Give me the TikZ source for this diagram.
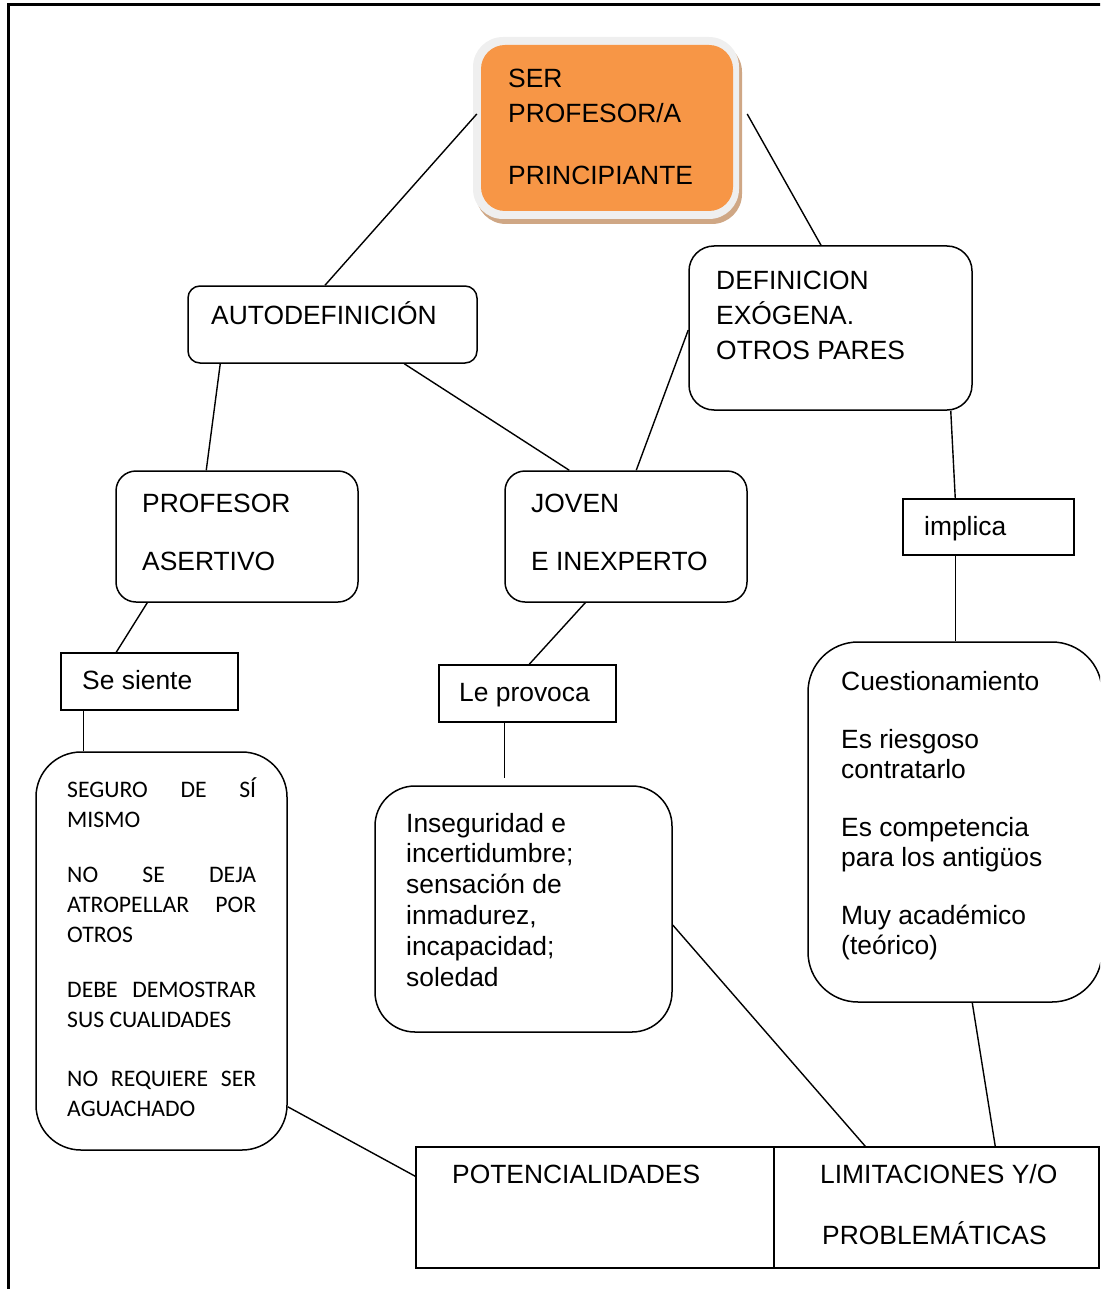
\documentclass[tikz,border=0pt]{standalone}
\usepackage{fontspec}
\setmainfont{Liberation Sans}
\newfontfamily\calib{Carlito}
\definecolor{headorange}{HTML}{F79646}
\definecolor{ringgrey}{HTML}{EFEFEF}
\definecolor{shadowtan}{HTML}{CFA785}
\begin{document}
\begin{tikzpicture}[x=1pt,y=-1pt,
  box/.style={draw, line width=1.5pt, inner sep=0pt, rectangle},
  rbox/.style={box, rounded corners=#1},
  conn/.style={line width=1.4pt},
  txt/.style={anchor=base west, inner sep=0pt, font=\fontsize{26.4}{35}\selectfont},
]
\useasboundingbox (0,0) rectangle (1100,1289);
\clip (0,0) rectangle (1100,1289);

% page frame
\draw[line width=3pt] (8.5,1300) -- (8.5,5) -- (1110,5);

% heading box with light ring and soft shadow
\fill[shadowtan, rounded corners=30pt] (476,42) rectangle (742,224);
\fill[ringgrey, rounded corners=30pt] (473,37) rectangle (739,219);
\node[fill=headorange, rounded corners=24pt, inner sep=0pt,
      minimum width=252pt, minimum height=166pt] (top) at (607,128) {};
\node[txt] (ttop) at (508,87.5) {\parbox[t]{240pt}{\raggedright SER\\PROFESOR/A\\[27pt]PRINCIPIANTE}};

% second level
\node[rbox=12pt, minimum width=289pt, minimum height=77pt] (auto) at (332.5,324.5) {};
\node[txt] (tauto) at (211,324.5) {AUTODEFINICIÓN};

\node[rbox=25pt, minimum width=283pt, minimum height=164pt] (def) at (830.5,328) {};
\node[txt] (tdef) at (716,289.5) {\parbox[t]{250pt}{\raggedright DEFINICION\\EXÓGENA.\\OTROS PARES}};

% third level
\node[rbox=20pt, minimum width=242pt, minimum height=131pt] (prof) at (237,536.5) {};
\node[txt] (tprof) at (142,512.5) {\parbox[t]{210pt}{\raggedright PROFESOR\\[23pt]ASERTIVO}};

\node[rbox=20pt, minimum width=242pt, minimum height=131pt] (joven) at (626,536.5) {};
\node[txt] (tjoven) at (531,512.5) {\parbox[t]{210pt}{\raggedright JOVEN\\[23pt]E INEXPERTO}};

\node[box, minimum width=171pt, minimum height=56pt] (implica) at (988.5,527) {};
\node[txt] (timplica) at (924,535.5) {implica};

% linking words
\node[box, minimum width=177pt, minimum height=57pt] (siente) at (149.5,681.5) {};
\node[txt] (tsiente) at (82,689.5) {Se siente};

\node[box, minimum width=177pt, minimum height=57pt] (provoca) at (527.5,693.5) {};
\node[txt] (tprovoca) at (459,701) {Le provoca};

% detail boxes
\node[rbox=45pt, minimum width=251pt, minimum height=398pt] (lista) at (161.5,951) {};
\node[anchor=base west, inner sep=0pt] (tlista) at (67,797) {\parbox[t]{189pt}{%
  \calib\fontsize{23.7}{30}\selectfont\setlength{\parskip}{25pt}%
  SEGURO DE SÍ\linebreak MISMO\par
  NO SE DEJA\linebreak ATROPELLAR POR\linebreak OTROS\par
  DEBE DEMOSTRAR\linebreak SUS CUALIDADES\par\vspace{4pt}%
  NO REQUIERE SER\linebreak AGUACHADO}};

\node[rbox=40pt, minimum width=297pt, minimum height=246pt] (inseg) at (523.5,909) {};
\node[txt, font=\fontsize{26.4}{30.8}\selectfont] (tinseg) at (406,832) {\parbox[t]{260pt}{\raggedright
  Inseguridad e\\incertidumbre;\\sensación de\\inmadurez,\\incapacidad;\\soledad}};

\node[rbox=50pt, minimum width=294pt, minimum height=360pt] (cuest) at (955,822) {};
\node[txt, font=\fontsize{26.4}{30.5}\selectfont] (tcuest) at (841,690.5) {\parbox[t]{250pt}{\raggedright
  Cuestionamiento\\[27pt]Es riesgoso\\contratarlo\\[27pt]Es competencia\\para los antigüos\\[27pt]Muy académico\\(teórico)}};

% bottom table
\node[box, minimum width=358pt, minimum height=121pt] (pot) at (595,1207.5) {};
\node[txt] (tpot) at (452,1183.5) {POTENCIALIDADES};
\node[box, minimum width=325pt, minimum height=121pt] (lim) at (936.5,1207.5) {};
\node[txt] (tlim) at (820,1183.5) {\parbox[t]{270pt}{\raggedright LIMITACIONES Y/O\\[26pt]\hspace*{2pt}PROBLEMÁTICAS}};

% connectors
\draw[conn] ([xshift=-4pt,yshift=14pt]top.west) -- ([xshift=-7.5pt]auto.north);
\draw[conn] ([xshift=14pt,yshift=14pt]top.east) -- ([xshift=-9.5pt]def.north);
\draw[conn] ([xshift=33pt]auto.south west) -- ([xshift=91pt]prof.north west);
\draw[conn] ([xshift=217pt]auto.south west) -- ([xshift=65pt]joven.north west);
\draw[conn] ([yshift=-2pt]def.west) -- ([xshift=132pt]joven.north west);
\draw[conn] ([xshift=-22pt]def.south east) -- ([xshift=53pt]implica.north west);
\draw[conn] ([xshift=53pt]implica.south west) -- ([xshift=148pt]cuest.north west);
\draw[conn] ([xshift=32pt]prof.south west) -- ([xshift=56pt]siente.north west);
\draw[conn] ([xshift=23pt]siente.south west) -- ([xshift=48pt]lista.north west);
\draw[conn] ([xshift=81pt]joven.south west) -- ([xshift=91pt]provoca.north west);
\draw[conn] ([xshift=66pt]provoca.south west) -- ([xshift=130pt,yshift=7pt]inseg.north west);
\draw[conn] ([yshift=-16pt]inseg.east) -- ([xshift=92pt]lim.north west);
\draw[conn] ([xshift=165pt]cuest.south west) -- ([xshift=222pt]lim.north west);
\draw[conn] ([yshift=44pt]lista.south east) -- ([yshift=-30pt]pot.north west);
\end{tikzpicture}
\end{document}
